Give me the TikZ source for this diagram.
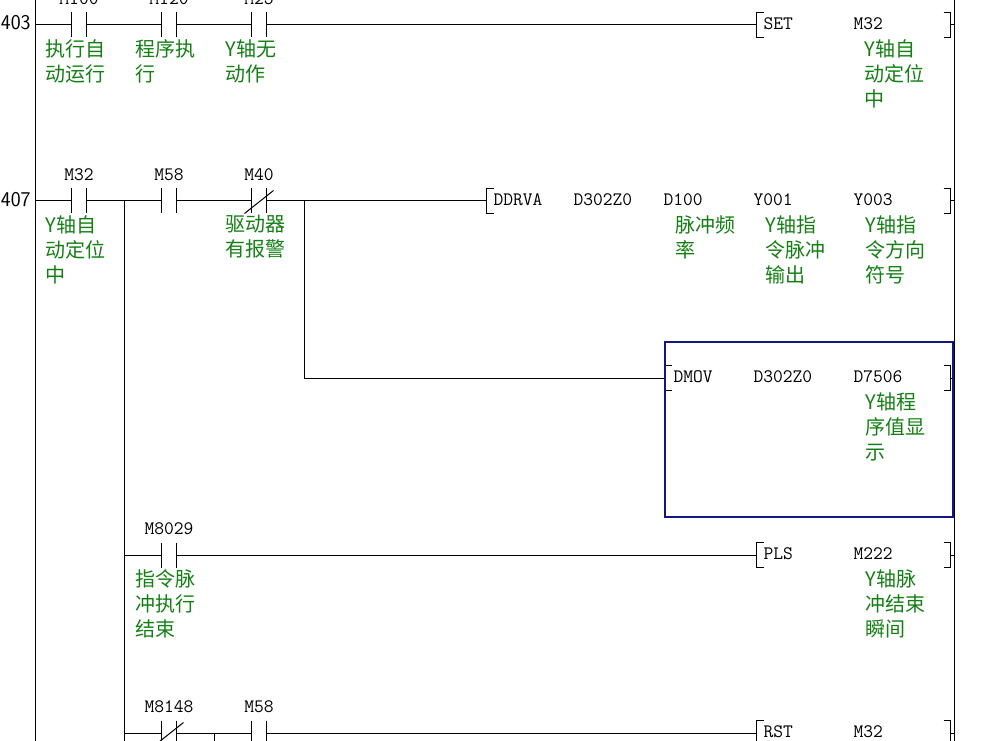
\documentclass[tikz,border=0pt]{standalone}
\usepackage{fontspec}
\newfontfamily\cjk{Noto Sans CJK SC}
\usetikzlibrary{positioning}
\definecolor{cmtgreen}{RGB}{20,128,20}
\definecolor{boxblue}{RGB}{20,20,130}

\begin{document}
\begin{tikzpicture}[
    x=1pt, y=1pt,
    line width=1pt,
    contact/.style={rectangle, minimum width=14pt, minimum height=24pt, inner sep=0pt},
    brk/.style={rectangle, minimum width=6pt, minimum height=24pt, inner sep=0pt},
    dev/.style={font=\ttfamily\fontsize{19}{19}\selectfont, inner sep=0pt},
    arg/.style={dev, anchor=west},
    cmt/.style={font=\cjk\fontsize{20}{25}\selectfont, text=cmtgreen, align=left, inner sep=0pt, anchor=north west},
    rungno/.style={font=\sffamily\fontsize{21}{21}\selectfont, inner sep=0pt, anchor=east},
    selbox/.style={draw=boxblue, line width=2pt}
]
\useasboundingbox (0,0) rectangle (986,-741);

% Rails
\coordinate (lt) at (35,0);
\coordinate (lb) at (35,-741);
\coordinate (rt) at (954,0);
\coordinate (rb) at (954,-741);
\draw (lt) -- (lb);
\draw (rt) -- (rb);

% Rung 403
\node[rungno] (n403) at (31,-23) {403};
\node[contact] (c100) at (79,-25) {};
\node[contact] (c120) at (169,-25) {};
\node[contact] (c25) at (259,-25) {};
\node[dev, above=7pt of c100] (l100) {M100};
\node[dev, above=7pt of c120] (l120) {M120};
\node[dev, above=7pt of c25] (l25) {M25};
\node[cmt] (k100) at (45,-39) {执行自\\动运行};
\node[cmt] (k120) at (135,-39) {程序执\\行};
\node[cmt] (k25) at (225,-39) {Y轴无\\动作};
\node[brk] (set) at (760,-25) {};
\node[brk] (setR) at (947,-25) {};
\node[arg] (setop) at (763,-24) {SET};
\node[arg] (seta) at (853,-24) {M32};
\node[cmt] (ksa) at (864,-39) {Y轴自\\动定位\\中};

% Rung 407
\node[rungno] (n407) at (31,-200) {407};
\node[contact] (c32) at (79,-201) {};
\node[contact] (c58) at (169,-201) {};
\node[contact] (c40) at (259,-201) {};
\node[dev, above=7pt of c32] (l32) {M32};
\node[dev, above=7pt of c58] (l58) {M58};
\node[dev, above=7pt of c40] (l40) {M40};
\node[cmt] (k32) at (45,-215) {Y轴自\\动定位\\中};
\node[cmt] (k40) at (225,-215) {驱动器\\有报警};
\coordinate (j1) at (124,-201);
\coordinate (j2) at (304,-201);
\node[brk] (ddrva) at (490,-201) {};
\node[brk] (ddrvaR) at (947,-201) {};
\node[arg] (ddop) at (493,-200) {DDRVA};
\node[arg] (dda) at (573,-200) {D302Z0};
\node[arg] (ddb) at (663,-200) {D100};
\node[arg] (ddc) at (753,-200) {Y001};
\node[arg] (ddd) at (853,-200) {Y003};
\node[cmt] (kdb) at (675,-215) {脉冲频\\率};
\node[cmt] (kdc) at (765,-215) {Y轴指\\令脉冲\\输出};
\node[cmt] (kdd) at (865,-215) {Y轴指\\令方向\\符号};

% DMOV branch
\node[brk] (dmov) at (668,-378) {};
\node[brk] (dmovR) at (947,-378) {};
\node[arg] (dmop) at (673,-377) {DMOV};
\node[arg] (dma) at (753,-377) {D302Z0};
\node[arg] (dmb) at (853,-377) {D7506};
\node[cmt] (kmb) at (865,-392) {Y轴程\\序值显\\示};

% PLS branch
\node[contact] (c8029) at (169,-555) {};
\node[dev, above=7pt of c8029] (l8029) {M8029};
\node[cmt] (k8029) at (135,-569) {指令脉\\冲执行\\结束};
\node[brk] (pls) at (760,-555) {};
\node[brk] (plsR) at (947,-555) {};
\node[arg] (plop) at (763,-554) {PLS};
\node[arg] (pla) at (853,-554) {M222};
\node[cmt] (kpa) at (865,-569) {Y轴脉\\冲结束\\瞬间};

% RST branch
\node[contact] (c8148) at (169,-733) {};
\node[contact] (c58b) at (259,-733) {};
\node[dev, above=7pt of c8148] (l8148) {M8148};
\node[dev, above=7pt of c58b] (l58b) {M58};
\coordinate (j3) at (214,-733);
\node[brk] (rst) at (760,-733) {};
\node[brk] (rstR) at (947,-733) {};
\node[arg] (rsop) at (763,-732) {RST};
\node[arg] (rsa) at (853,-732) {M32};

% Contacts and brackets
\foreach \c in {c100,c120,c25,c32,c58,c40,c8029,c8148,c58b}
  \draw (\c.north west) -- (\c.south west) (\c.north east) -- (\c.south east);
\foreach \c in {c40,c8148}
  \draw ([xshift=-7pt]\c.south west) -- ([xshift=7pt,yshift=-2pt]\c.north east);
\foreach \b in {set,ddrva,dmov,pls,rst}
  \draw (\b.north east) -- (\b.north west) -- (\b.south west) -- (\b.south east);
\foreach \b in {setR,ddrvaR,dmovR,plsR,rstR}
  \draw (\b.north west) -- (\b.north east) -- (\b.south east) -- (\b.south west)
        (\b.east) -- (\b.east -| rt);

% Connections
\draw (lt |- c100) -- (c100.west);
\draw (c100.east) -- (c120.west);
\draw (c120.east) -- (c25.west);
\draw (c25.east) -- (set.west);
\draw (lt |- c32) -- (c32.west);
\draw (c32.east) -- (c58.west);
\draw (c58.east) -- (c40.west);
\draw (c40.east) -- (ddrva.west);
\draw (j1) -- (j1 |- lb);
\draw (j2) -- (j2 |- dmov) -- (dmov.west);
\draw (j1 |- c8029) -- (c8029.west);
\draw (c8029.east) -- (pls.west);
\draw (j1 |- c8148) -- (c8148.west);
\draw (c8148.east) -- (c58b.west);
\draw (c58b.east) -- (rst.west);
\draw (j3) -- (j3 |- lb);

% Selection box
\draw[selbox] (665,-342) rectangle (953,-517);

\end{tikzpicture}
\end{document}
